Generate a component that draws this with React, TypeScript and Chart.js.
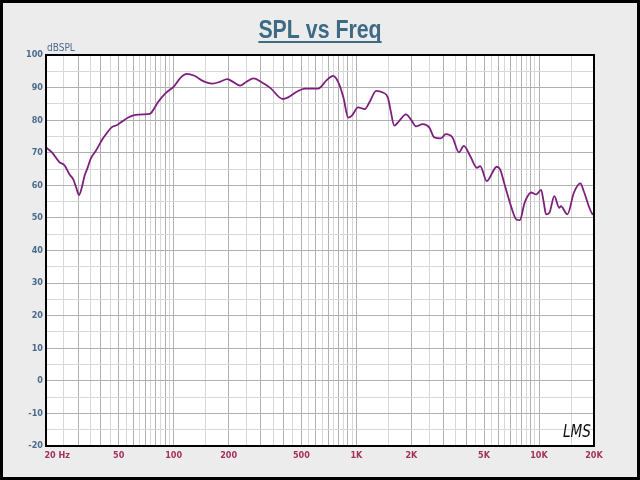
import React, { useEffect, useRef } from "react";
import { Chart, registerables } from "chart.js";

Chart.register(...registerables);

// Frequency response data (Hz, dBSPL)
const freqs = [
  20, 21.5, 23.6, 25.3, 26.8, 28.2, 29.2, 30.3, 31.3, 32.5, 33.7, 35.2, 37.5, 40.8, 43, 45.7, 49, 52,
  56.4, 61.9, 68, 74, 78, 81.8, 90.3, 100, 108.9, 118, 129, 146, 163, 180, 196, 208, 231, 250, 274,
  300, 338, 395, 423, 471, 522, 570, 618, 688, 747, 797, 849, 903, 942, 1023, 1111, 1180, 1284, 1395,
  1486, 1540, 1614, 1700, 1870, 2000, 2122, 2307, 2506, 2670, 2903, 3090, 3358, 3644, 3876, 4200,
  4568, 4765, 5174, 5866, 6122, 6500, 6928, 7522, 7850, 8348, 9062, 9645, 10267, 10600, 10930, 11400,
  12130, 12900, 13170, 14300, 15530, 16870, 17500, 19700, 20000,
];
const spl = [
  71.6, 70.2, 67.2, 66.1, 63.5, 61.8, 59.5, 57.0, 59.0, 62.9, 65.2, 68.3, 70.6, 74.2, 76.0, 77.8, 78.5, 79.5,
  80.8, 81.6, 81.8, 81.9, 83.5, 85.4, 88.3, 90.3, 93.0, 94.2, 93.7, 91.9, 91.2, 91.8, 92.6, 92.0, 90.6, 91.8, 92.8,
  91.8, 89.9, 86.5, 87.0, 88.7, 89.7, 89.7, 89.7, 92.3, 93.6, 91.6, 87.0, 80.8, 81.3, 83.9, 83.4, 85.5, 89.0, 88.5,
  87.0, 83.0, 78.3, 79.5, 81.8, 80.0, 78.1, 78.8, 77.8, 74.7, 74.4, 75.7, 74.7, 70.1, 72.1, 69.0,
  65.4, 65.9, 61.3, 65.7, 64.9, 60.0, 54.7, 49.5, 49.3, 54.7, 57.8, 57.2, 58.6, 55.0, 51.1, 51.6,
  56.7, 53.1, 53.6, 51.1, 57.8, 60.6, 58.5, 51.1, 51.0,
];

// Labelled x ticks
const xTickValues = [20, 50, 100, 200, 500, 1000, 2000, 5000, 10000, 20000];
const xTickLabels = ["        20 Hz", "50", "100", "200", "500", "1K", "2K", "5K", "10K", "20K"];

const TITLE = "SPL vs Freq";
const Y_UNIT = "dBSPL";
const LOGO = "LMS";

const NARROW = "'DejaVu Sans Condensed', 'Liberation Sans Narrow', sans-serif";
const TITLE_COLOR = "#3d6b85";
const Y_LABEL_COLOR = "#4a6a8c";
const X_LABEL_COLOR = "#a3305c";
const GRID_DARK = "#b0b0b0";
const GRID_LIGHT = "#d8d8d8";

// gridline positions: whole multiples (dark) and half multiples (light) in each decade
function gridValues(): number[] {
  const out: number[] = [];
  for (const base of [10, 100, 1000, 10000]) {
    for (let k = 1; k <= 10; k += 0.5) {
      const v = Math.round(base * k);
      if (v >= 20 && v <= 20000 && !out.includes(v)) out.push(v);
    }
  }
  return out.sort((a, b) => a - b);
}
function isMajorFreq(v: number): boolean {
  const e = Math.pow(10, Math.floor(Math.log10(v) + 1e-9));
  const k = v / e;
  return Math.abs(k - Math.round(k)) < 1e-6;
}

const decorPlugin = {
  id: "decor",
  beforeDraw(chart: any) {
    const { ctx, width, height, chartArea } = chart;
    ctx.save();
    ctx.fillStyle = "#000";
    ctx.fillRect(0, 0, width, height);
    ctx.fillStyle = "#ececec";
    ctx.fillRect(3, 3, width - 6, height - 6);
    ctx.fillStyle = "#ffffff";
    ctx.fillRect(chartArea.left, chartArea.top, chartArea.right - chartArea.left, chartArea.bottom - chartArea.top);
    ctx.restore();
  },
  afterDraw(chart: any) {
    const { ctx, chartArea } = chart;
    ctx.save();
    ctx.strokeStyle = "#000";
    ctx.lineWidth = 2;
    ctx.strokeRect(chartArea.left, chartArea.top, chartArea.right - chartArea.left, chartArea.bottom - chartArea.top);
    // title (horizontally condensed) with underline
    const cx = chart.width / 2;
    ctx.font = `bold 26px 'Liberation Sans', Arial, sans-serif`;
    const sx = 0.82;
    const w = ctx.measureText(TITLE).width * sx;
    ctx.fillStyle = TITLE_COLOR;
    ctx.textAlign = "left";
    ctx.textBaseline = "alphabetic";
    ctx.save();
    ctx.translate(cx - w / 2, 38);
    ctx.scale(sx, 1);
    ctx.fillText(TITLE, 0, 0);
    ctx.restore();
    ctx.fillRect(cx - w / 2, 41, w, 2);
    // unit label
    ctx.font = `10px ${NARROW}`;
    ctx.fillStyle = Y_LABEL_COLOR;
    ctx.textBaseline = "middle";
    ctx.textAlign = "left";
    ctx.fillText(Y_UNIT, chartArea.left + 1, 48);
    // logo
    ctx.font = `italic 16px 'DejaVu Sans', sans-serif`;
    ctx.fillStyle = "#111";
    ctx.save();
    ctx.translate(chartArea.right - 31, chartArea.bottom - 14);
    ctx.scale(0.85, 1.1);
    ctx.fillText(LOGO, 0, 0);
    ctx.restore();
    ctx.restore();
  },
};

export default function App() {
  const ref = useRef<HTMLCanvasElement | null>(null);
  useEffect(() => {
    if (!ref.current) return;
    const grid = gridValues();
    const chart = new Chart(ref.current, {
      type: "line",
      data: {
        datasets: [
          {
            data: freqs.map((f, i) => ({ x: f, y: spl[i] })),
            borderColor: "#7d1f7d",
            borderWidth: 1.8,
            pointRadius: 0,
            tension: 0.4,
            cubicInterpolationMode: "monotone",
            fill: false,
          },
        ],
      },
      options: {
        responsive: false,
        animation: false,
        layout: { padding: { left: 0, right: 46, top: 55, bottom: 0 } },
        plugins: {
          legend: { display: false },
          tooltip: { enabled: false },
          title: { display: false },
        },
        scales: {
          x: {
            type: "logarithmic",
            min: 20,
            max: 20000,
            afterBuildTicks: (scale: any) => {
              scale.ticks = grid.map((v) => ({ value: v }));
            },
            afterFit: (scale: any) => {
              scale.height = 34;
            },
            ticks: {
              autoSkip: false,
              maxRotation: 0,
              minRotation: 0,
              padding: 4,
              color: X_LABEL_COLOR,
              font: { family: NARROW, size: 9, weight: "bold" },
              callback: (value: any) => {
                const i = xTickValues.indexOf(Number(value));
                return i >= 0 ? xTickLabels[i] : "";
              },
            },
            grid: {
              drawTicks: false,
              color: (c: any) => (c.tick && isMajorFreq(c.tick.value) ? GRID_DARK : GRID_LIGHT),
              lineWidth: 1,
            },
            border: { display: true, color: "#000", width: 2 },
          },
          y: {
            min: -20,
            max: 100,
            afterFit: (scale: any) => {
              scale.width = 46;
            },
            ticks: {
              stepSize: 5,
              padding: 3,
              color: Y_LABEL_COLOR,
              font: { family: NARROW, size: 9, weight: "bold" },
              callback: (value: any) => (Number(value) % 10 === 0 ? String(value) : ""),
            },
            grid: {
              drawTicks: false,
              color: (c: any) => (c.tick && c.tick.value % 10 === 0 ? GRID_DARK : GRID_LIGHT),
              lineWidth: 1,
            },
            border: { display: true, color: "#000", width: 2 },
          },
        },
      },
      plugins: [decorPlugin],
    } as any);
    return () => chart.destroy();
  }, []);
  return (
    <div style={{ position: "fixed", left: 0, top: 0, width: 640, height: 480 }}>
      <canvas ref={ref} width={640} height={480} style={{ display: "block" }} />
    </div>
  );
}
